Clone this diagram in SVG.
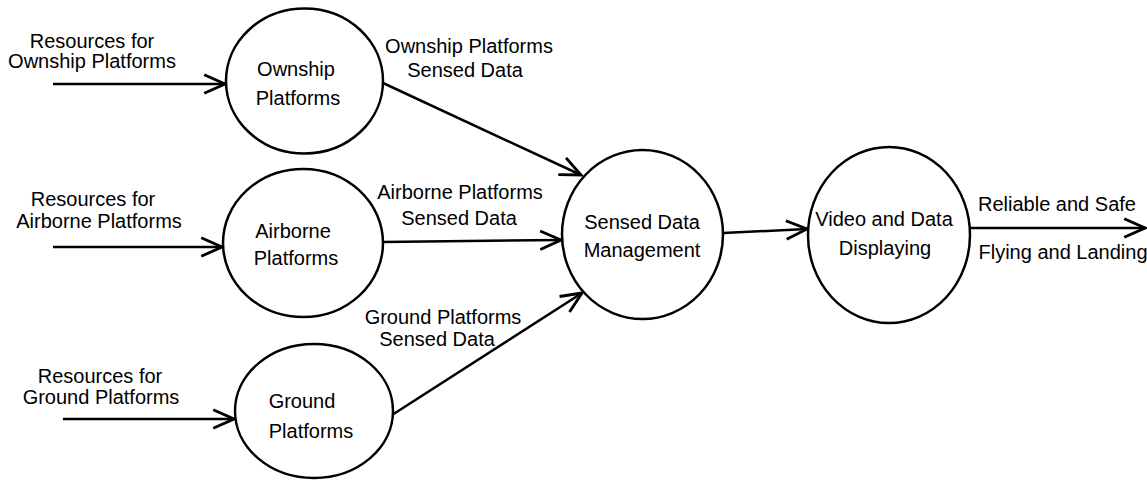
<svg xmlns="http://www.w3.org/2000/svg" width="1147" height="488" viewBox="0 0 1147 488">
  <style>
    .node { fill: #ffffff; stroke: #000000; stroke-width: 2.5; }
    .flow { fill: none; stroke: #000000; stroke-width: 2.5; marker-end: url(#arrow); }
    text { font-family: "Liberation Sans", Arial, sans-serif; font-size: 20px; fill: #000000; text-anchor: middle; }
  </style>
  <defs>
    <marker id="arrow" markerUnits="userSpaceOnUse" markerWidth="30" markerHeight="30" viewBox="-22 -12 26 24" refX="0" refY="0" orient="auto">
      <path d="M-18,-8 L0,0 L-18,8" fill="none" stroke="#000000" stroke-width="2.5" stroke-linejoin="miter"/>
    </marker>
  </defs>

  <rect width="1147" height="488" fill="#ffffff"/>

  <!-- data flows -->
  <g id="connectors">
    <line class="flow" x1="53" y1="84" x2="225" y2="84"/>
    <line class="flow" x1="53" y1="247" x2="222" y2="247"/>
    <line class="flow" x1="63" y1="419" x2="234" y2="419"/>
    <line class="flow" x1="383" y1="83" x2="581" y2="175"/>
    <line class="flow" x1="382" y1="242" x2="561" y2="240"/>
    <line class="flow" x1="392" y1="415" x2="582" y2="293"/>
    <line class="flow" x1="723" y1="233" x2="807" y2="229"/>
    <line class="flow" x1="970" y1="228" x2="1145" y2="228"/>
  </g>

  <!-- flow labels -->
  <g id="flow-labels">
    <text x="92" y="48">Resources for</text>
    <text x="92" y="68">Ownship Platforms</text>
    <text x="93" y="206">Resources for</text>
    <text x="99" y="228">Airborne Platforms</text>
    <text x="100" y="383">Resources for</text>
    <text x="101" y="404">Ground Platforms</text>
    <text x="469" y="53">Ownship Platforms</text>
    <text x="465" y="77">Sensed Data</text>
    <text x="460" y="199">Airborne Platforms</text>
    <text x="459" y="225">Sensed Data</text>
    <text x="443" y="324">Ground Platforms</text>
    <text x="437" y="346">Sensed Data</text>
    <text x="1057" y="211">Reliable and Safe</text>
    <text x="1063" y="259">Flying and Landing</text>
  </g>

  <!-- processes -->
  <g id="ownship-platforms">
    <ellipse class="node" cx="304.5" cy="81" rx="78.5" ry="72.5"/>
    <text x="296" y="76">Ownship</text>
    <text x="298" y="105">Platforms</text>
  </g>
  <g id="airborne-platforms">
    <ellipse class="node" cx="303" cy="243" rx="80" ry="74"/>
    <text x="293" y="238">Airborne</text>
    <text x="296" y="265">Platforms</text>
  </g>
  <g id="ground-platforms">
    <ellipse class="node" cx="314" cy="411" rx="79" ry="67"/>
    <text x="302" y="408">Ground</text>
    <text x="311" y="438">Platforms</text>
  </g>
  <g id="sensed-data-management">
    <ellipse class="node" cx="642.5" cy="234.5" rx="80.5" ry="84.5"/>
    <text x="642" y="229">Sensed Data</text>
    <text x="642" y="257">Management</text>
  </g>
  <g id="video-and-data-displaying">
    <ellipse class="node" cx="889" cy="235" rx="81" ry="88"/>
    <text x="884" y="226">Video and Data</text>
    <text x="885" y="255">Displaying</text>
  </g>
</svg>
